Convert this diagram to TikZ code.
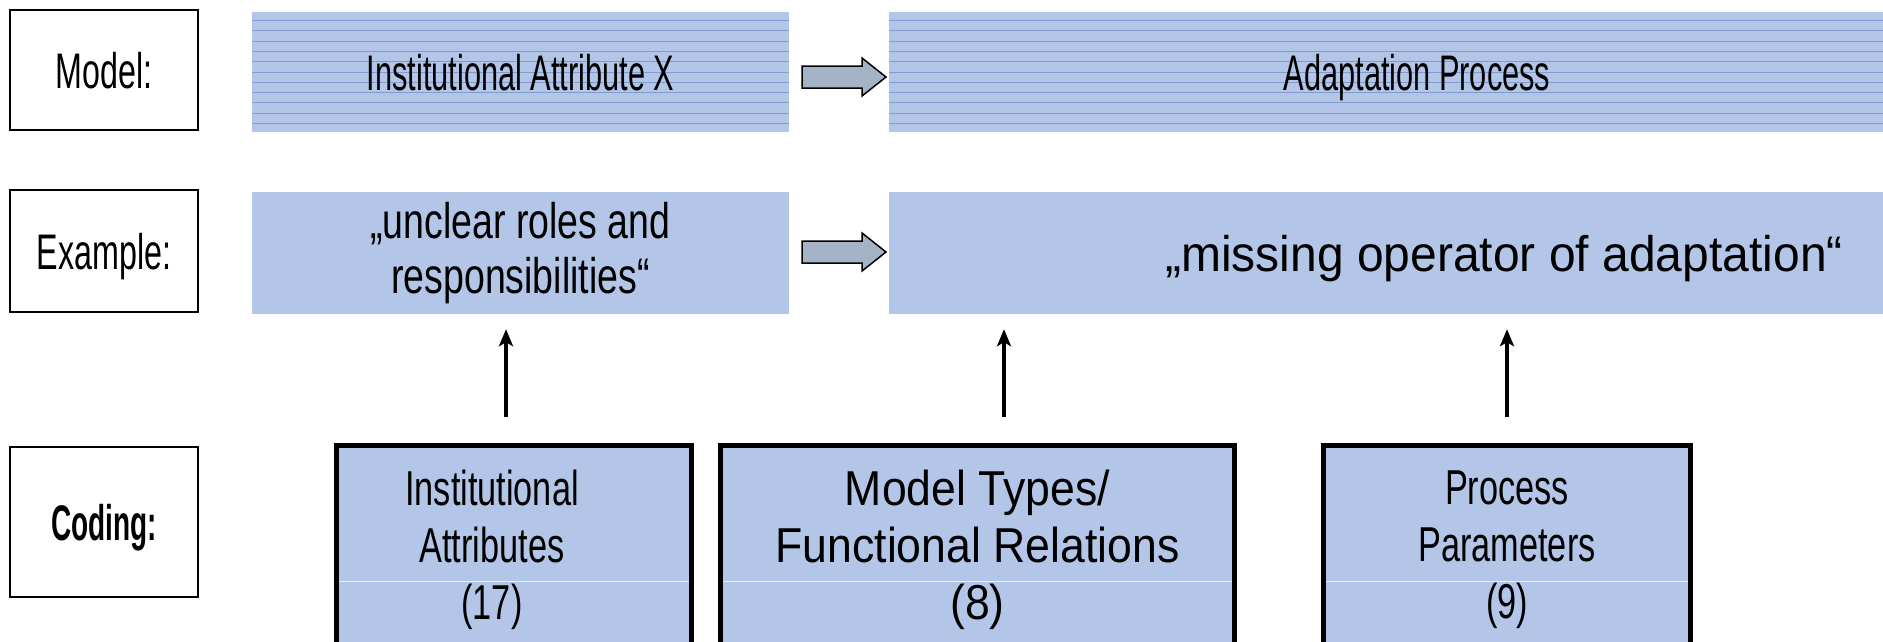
\documentclass[tikz,border=0pt]{standalone}
\usepackage{fontspec}
\setmainfont{Liberation Sans}
\newfontfamily\fLab[FakeStretch=0.645]{Liberation Sans}
\newfontfamily\fLabB[FakeStretch=0.56]{Liberation Sans}
\newfontfamily\fTop[FakeStretch=0.615]{Liberation Sans}
\newfontfamily\fUnc[FakeStretch=0.75]{Liberation Sans}
\newfontfamily\fMis[FakeStretch=0.96]{Liberation Sans}
\newfontfamily\fNar[FakeStretch=0.70]{Liberation Sans}
\newfontfamily\fWid[FakeStretch=0.91]{Liberation Sans}
\usetikzlibrary{arrows.meta,calc}
\definecolor{boxblue}{RGB}{179,198,231}
\definecolor{lineblue}{RGB}{128,156,206}
\definecolor{arrowgrey}{RGB}{164,179,197}
\begin{document}
\begin{tikzpicture}[x=1pt,y=-1pt,
  lab/.style={draw=black, line width=2pt, fill=white, inner sep=0pt, minimum width=188pt,
    text height=36pt, text depth=0pt, font=\fLab\fontsize{50}{58}\selectfont},
  bluebox/.style={fill=boxblue, inner sep=0pt, align=center},
  oneline/.style={text height=36pt, text depth=0pt},
  lined/.style={path picture={
    \foreach \i in {0,...,10}
      \draw[hline] ([yshift={-8.5pt-10.3pt*\i}]path picture bounding box.north west)
        -- ([yshift={-8.5pt-10.3pt*\i}]path picture bounding box.north east);}},
  codebox/.style={draw=black, line width=5pt, fill=boxblue, inner sep=0pt, minimum height=210pt,
    path picture={\draw[white, opacity=0.7, line width=1pt]
      ([yshift=-31pt]path picture bounding box.west) -- ([yshift=-31pt]path picture bounding box.east);}},
  codetext/.style={inner sep=0pt, align=center},
  blockarrow/.style={draw=black, line width=1.5pt, fill=arrowgrey, line join=miter},
  uparrow/.style={line width=3.8pt, -{Stealth[length=17pt,width=14pt,inset=4pt]}},
  hline/.style={lineblue, line width=1pt}]
\useasboundingbox (0,0) rectangle (1883,641);
\clip (0,0) rectangle (1883,641);
\fill[white] (0,0) rectangle (1883,641);

% left labels
\node[lab, minimum height=120pt] (model) at (104,70) {Model:};
\node[lab, minimum height=122pt] (example) at (104,251) {Example:};
\node[lab, minimum height=150pt, font=\fLabB\bfseries\fontsize{50}{58}\selectfont] (coding) at (104,522) {Coding:};

% model row
\node[bluebox, lined, oneline, minimum width=537pt, minimum height=120pt,
  font=\fTop\fontsize{50}{58}\selectfont] (attr) at (520.5,72) {Institutional Attribute X};
\node[bluebox, lined, oneline, minimum width=1056pt, minimum height=120pt,
  font=\fTop\fontsize{50}{58}\selectfont] (adapt) at (1417,72) {Adaptation Process};

% example row
\node[bluebox, minimum width=537pt, minimum height=122pt,
  font=\fUnc\fontsize{50}{55}\selectfont] (unclear) at (520.5,253) {„unclear roles and\\responsibilities“};
\node[bluebox, oneline, minimum width=1230pt, minimum height=122pt,
  font=\fMis\fontsize{50}{58}\selectfont] (missing) at (1504,253) {„missing operator of adaptation“};

% block arrows between the boxes
\coordinate (m1) at (844,77);
\coordinate (m2) at (844,252);
\foreach \m in {m1,m2}
  \draw[blockarrow, shift={(\m)}] (-42,-11) -- (18,-11) -- (18,-19) -- (42,0)
    -- (18,19) -- (18,11) -- (-42,11) -- cycle;

% coding row
\node[codebox, minimum width=355pt] (inst) at (514,550) {};
\node[codebox, minimum width=514pt] (mtypes) at (977.5,550) {};
\node[codebox, minimum width=367pt] (proc) at (1507,550) {};
\node[codetext, font=\fNar\fontsize{49}{57}\selectfont] (instT) at (492,550) {Institutional\\Attributes\\(17)};
\node[codetext, font=\fWid\fontsize{49}{57}\selectfont] (mtypesT) at (977.5,550) {Model Types/\\Functional Relations\\(8)};
\node[codetext, font=\fNar\fontsize{49}{57}\selectfont] (procT) at (1507,550) {Process\\Parameters\\(9)};

% up arrows
\coordinate (s1) at (506,417);
\coordinate (s2) at (1004,417);
\coordinate (s3) at (1507,417);
\draw[uparrow, shorten >=15pt] (s1) -- (s1 |- unclear.south);
\draw[uparrow, shorten >=15pt] (s2) -- (s2 |- unclear.south);
\draw[uparrow, shorten >=15pt] (s3) -- (s3 |- missing.south);
\end{tikzpicture}
\end{document}
